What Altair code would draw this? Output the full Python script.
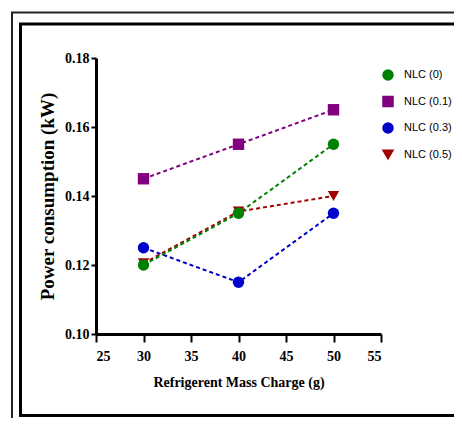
import altair as alt
import pandas as pd

charge = [30, 40, 50]
series = ["NLC (0)", "NLC (0.1)", "NLC (0.3)", "NLC (0.5)"]
nlc0 = [0.120, 0.135, 0.155]
nlc01 = [0.145, 0.155, 0.165]
nlc03 = [0.125, 0.115, 0.135]
nlc05 = [0.1205, 0.1355, 0.140]
colors = ["#008000", "#800080", "#0000CC", "#A00000"]
shapes = ["circle", "square", "circle", "triangle-down"]
x_ticks = [25, 30, 35, 40, 45, 50, 55]
y_ticks = [0.10, 0.12, 0.14, 0.16, 0.18]

values = {"NLC (0)": nlc0, "NLC (0.1)": nlc01, "NLC (0.3)": nlc03, "NLC (0.5)": nlc05}
draw_order = ["NLC (0.5)", "NLC (0.3)", "NLC (0.1)", "NLC (0)"]
rows = []
for i, s in enumerate(draw_order):
    for c, v in zip(charge, values[s]):
        rows.append({"charge": c, "power": v, "series": s, "ord": i})
df = pd.DataFrame(rows)

xs = alt.X("charge:Q", scale=alt.Scale(domain=[25, 55], nice=False),
           axis=alt.Axis(values=x_ticks, title="Refrigerent Mass Charge (g)", tickSize=8,
                         labelPadding=7, titlePadding=12, titleFontSize=14))
ys = alt.Y("power:Q", scale=alt.Scale(domain=[0.10, 0.18], nice=False, zero=False),
           axis=alt.Axis(values=y_ticks, format=".2f", title="Power consumption (kW)", tickSize=5,
                         labelPadding=2, titlePadding=7, titleFontSize=19))
cscale = alt.Scale(domain=series, range=colors)
sscale = alt.Scale(domain=series, range=shapes)

base = alt.Chart(df)
lines = base.mark_line(strokeDash=[4, 3], strokeWidth=2).encode(
    x=xs, y=ys,
    color=alt.Color("series:N", scale=cscale, sort=series),
    detail="series:N",
    order="ord:Q",
)
points = base.mark_point(filled=True, size=130, opacity=1).encode(
    x=xs, y=ys,
    color=alt.Color("series:N", scale=cscale, sort=series,
                    legend=alt.Legend(title=None, orient="none", legendX=286, legendY=11,
                                      symbolSize=100, labelFontSize=11, labelFont="Liberation Sans",
                                      labelOffset=10, rowPadding=10.5, padding=0)),
    shape=alt.Shape("series:N", scale=sscale, sort=series),
    order="ord:Q",
)

frame_src = alt.Data(values=[{"k": 1}])
outer = alt.Chart(frame_src).mark_rect(fill="transparent", stroke="#222", strokeWidth=2).encode(
    x=alt.value(-84), x2=alt.value(600), y=alt.value(-45.5), y2=alt.value(600))
inner = alt.Chart(frame_src).mark_rect(fill="transparent", stroke="#000", strokeWidth=3).encode(
    x=alt.value(-75.5), x2=alt.value(600), y=alt.value(-34), y2=alt.value(357.5))

chart = alt.layer(outer, inner, lines, points).properties(
    width=285, height=276,
    padding={"left": 88, "top": 50, "right": 73, "bottom": 84},
    autosize=alt.AutoSizeParams(type="none"),
    background="white",
).configure_view(stroke="transparent").configure_axis(
    grid=False, domainColor="black", domainWidth=3, tickColor="black", tickWidth=2,
    labelFont="Liberation Serif", labelFontWeight="bold", labelFontSize=14, labelColor="black",
    titleFont="Liberation Serif", titleFontWeight="bold", titleColor="black",
).configure_legend(labelColor="black")

chart.save("out.html", embed_options={"renderer": "svg", "actions": False})
